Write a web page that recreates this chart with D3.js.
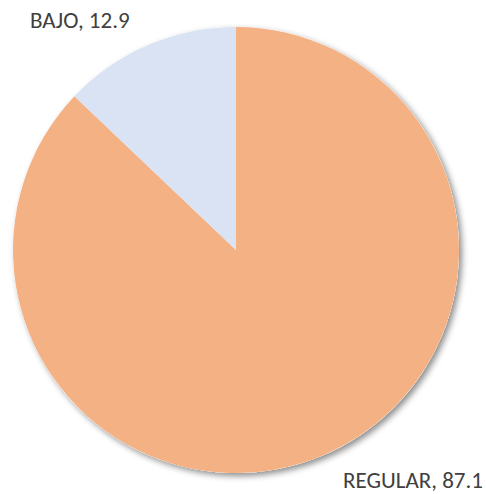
<!DOCTYPE html>
<html><head><meta charset="utf-8">
<script src="https://cdn.jsdelivr.net/npm/d3@7"></script>
<style>html,body{margin:0;padding:0;background:#fff;}</style>
</head><body>
<svg id="c" width="486" height="494"></svg>
<script>
const categories = ["REGULAR", "BAJO"];
const values = [87.1, 12.9];
const colors = ["#F4B183", "#DAE3F3"];

const svg = d3.select("#c");
const defs = svg.append("defs");
const f = defs.append("filter").attr("id","sh").attr("x","-10%").attr("y","-10%").attr("width","120%").attr("height","120%");
f.append("feDropShadow").attr("dx",3).attr("dy",3).attr("stdDeviation",3).attr("flood-color","#000").attr("flood-opacity",0.45);

const cx = 236, cy = 250, r = 223;
const data = categories.map((c,i)=>({cat:c, v:values[i]}));
const pie = d3.pie().value(d=>d.v).sort(null);
const arc = d3.arc().innerRadius(0).outerRadius(r);
const g = svg.append("g").attr("transform",`translate(${cx},${cy})`);
g.append("circle").attr("r", r).attr("fill","#fff").attr("filter","url(#sh)");
g.selectAll("path").data(pie(data)).join("path")
  .attr("d", arc).attr("fill",(d,i)=>colors[i]);

const labels = [
  {i:0, x:483, y:488, anchor:"end"},
  {i:1, x:30, y:28, anchor:"start"}
];
svg.selectAll("text.lbl").data(labels).join("text")
  .attr("class","lbl")
  .attr("x",d=>d.x).attr("y",d=>d.y)
  .attr("text-anchor",d=>d.anchor)
  .attr("font-family","Carlito, Lato, sans-serif")
  .attr("font-size",23).attr("fill","#404040")
  .text(d=>`${categories[d.i]}, ${values[d.i]}`);
</script>
</body></html>
